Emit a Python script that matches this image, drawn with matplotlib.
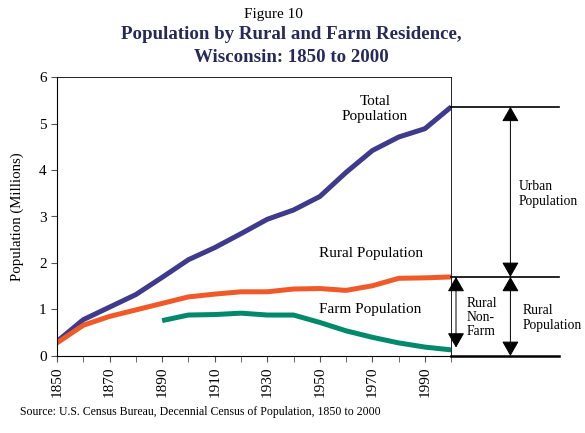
import matplotlib
matplotlib.use("Agg")
import matplotlib.pyplot as plt

# decennial census years and populations (millions)
years = [1850, 1860, 1870, 1880, 1890, 1900, 1910, 1920, 1930, 1940, 1950, 1960, 1970, 1980, 1990, 2000]
total_pop = [0.31, 0.78, 1.05, 1.32, 1.69, 2.07, 2.33, 2.63, 2.94, 3.14, 3.43, 3.95, 4.42, 4.71, 4.89, 5.36]
rural_pop = [0.28, 0.66, 0.85, 0.99, 1.13, 1.27, 1.33, 1.38, 1.38, 1.44, 1.45, 1.41, 1.51, 1.67, 1.68, 1.70]
farm_years = [1890, 1900, 1910, 1920, 1930, 1940, 1950, 1960, 1970, 1980, 1990, 2000]
farm_pop = [0.76, 0.88, 0.89, 0.92, 0.88, 0.88, 0.72, 0.54, 0.40, 0.28, 0.19, 0.13]

tick_years = [1850, 1870, 1890, 1910, 1930, 1950, 1970, 1990]

plt.rcParams['font.family'] = ['Liberation Serif', 'DejaVu Serif']

fig = plt.figure(figsize=(5.85, 4.33), dpi=100)
ax = fig.add_axes([0.0974, 0.178, 0.674, 0.644])

ax.plot(years, total_pop, color='#3f3b8c', lw=3.6, solid_capstyle='butt')
ax.plot(years, rural_pop, color='#f05a28', lw=3.6, solid_capstyle='butt')
ax.plot(farm_years, farm_pop, color='#00896b', lw=3.6, solid_capstyle='butt')

ax.set_xlim(1850, 2000)
ax.set_ylim(0, 6)
ax.set_xticks(tick_years)
ax.set_xticklabels([str(y) for y in tick_years], rotation=90, fontsize=11)
ax.set_xticks(range(1850, 2001, 10), minor=True)
ax.tick_params(axis='x', which='both', direction='out', length=4, color='#555555')
ax.tick_params(axis='y', direction='out', length=4, labelsize=11, color='#555555')
ax.set_yticks(range(0, 7))
ax.set_ylabel('Population (Millions)', fontsize=10.7)
ax.yaxis.set_label_coords(-0.084, 0.5)
for side in ['top', 'right']:
    ax.spines[side].set_linewidth(0.6)
ax.spines['left'].set_linewidth(0.8)
ax.spines['bottom'].set_linewidth(0.8)

# reference lines to the right of the plot
x_end = 2041
t_end, r_end, f_end = total_pop[-1], rural_pop[-1], farm_pop[-1]
for yv in [t_end, r_end]:
    ax.plot([2000, x_end], [yv, yv], color='black', lw=1.2, clip_on=False)
ax.plot([2000, x_end], [0, 0], color='black', lw=1.8, clip_on=False)

arrow = dict(arrowstyle='<|-|>,head_length=0.42,head_width=0.24', color='black',
             lw=0.7, mutation_scale=22, shrinkA=0, shrinkB=0)
ax.annotate('', xy=(2022.5, t_end), xytext=(2022.5, r_end), arrowprops=arrow, annotation_clip=False)
ax.annotate('', xy=(2022.5, r_end), xytext=(2022.5, 0), arrowprops=arrow, annotation_clip=False)
ax.annotate('', xy=(2001.8, r_end), xytext=(2001.8, f_end + 0.05), arrowprops=arrow, annotation_clip=False)

txt = dict(fontsize=9.8, va='center')
ax.text(2025.5, 3.48, 'Urban\nPopulation', ha='left', **txt)
ax.text(2027, 0.82, 'Rural\nPopulation', ha='left', **txt)
ax.text(2006, 0.82, 'Rural\nNon-\nFarm', ha='left', linespacing=1.1, **txt)
mid = dict(fontsize=11, va='center', ha='center')
ax.text(1971, 5.32, 'Total\nPopulation', **mid)
ax.text(1969.5, 2.21, 'Rural Population', **mid)
ax.text(1969, 1.0, 'Farm Population', **mid)

fig.text(0.467, 0.967, 'Figure 10', ha='center', va='center', fontsize=11)
fig.text(0.498, 0.894, 'Population by Rural and Farm Residence,\nWisconsin: 1850 to 2000',
         ha='center', va='center', fontsize=13.6, fontweight='bold', color='#262a5a',
         linespacing=1.43)
fig.text(0.035, 0.048, 'Source: U.S. Census Bureau, Decennial Census of Population, 1850 to 2000',
         ha='left', va='center', fontsize=8.5)

fig.savefig('out.png', dpi=100)
